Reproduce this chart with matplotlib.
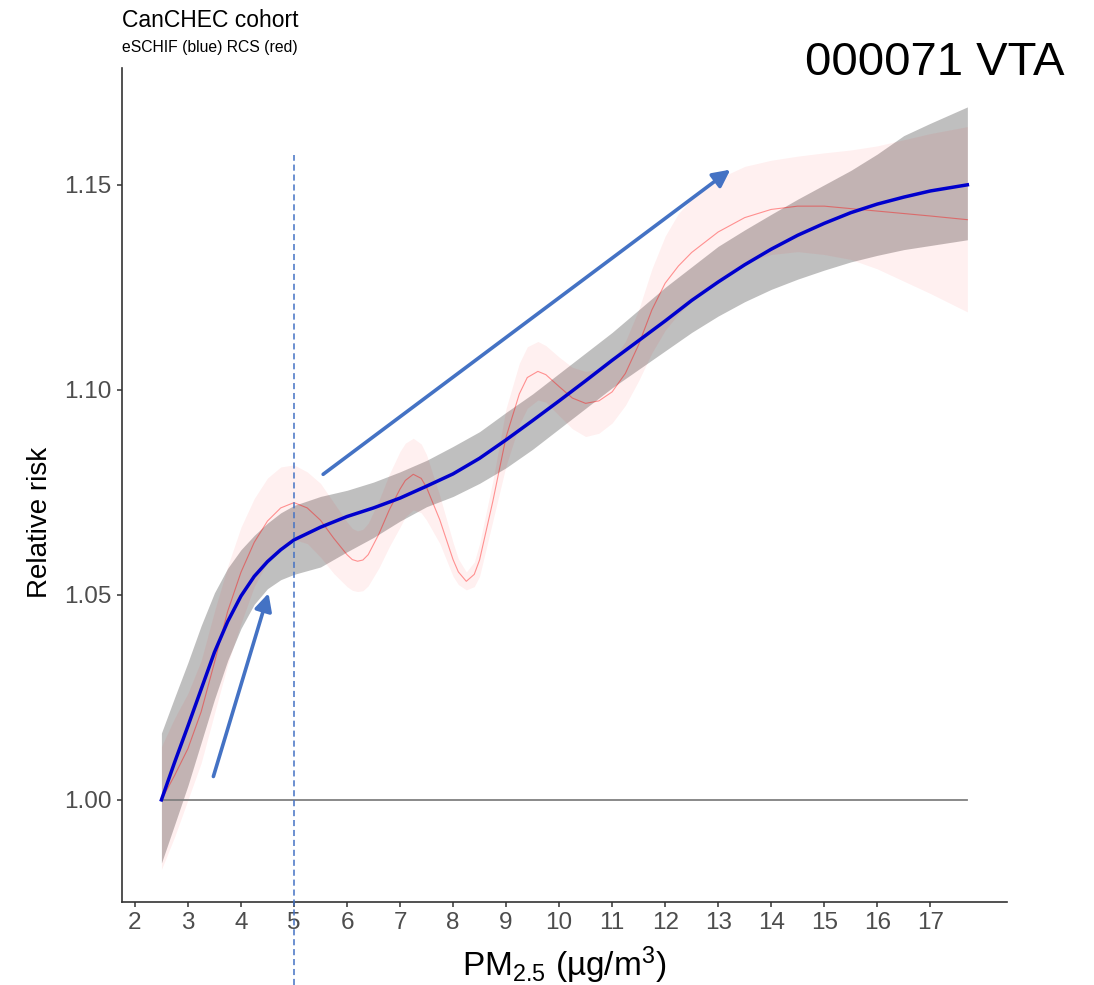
import matplotlib
matplotlib.use("Agg")
import matplotlib.pyplot as plt

plt.rcParams['font.family'] = ['Liberation Sans', 'DejaVu Sans']
plt.rcParams['mathtext.fontset'] = 'custom'
plt.rcParams['mathtext.rm'] = 'Liberation Sans'
plt.rcParams['mathtext.default'] = 'regular'

# eSCHIF curve (blue) with its band
pm = [2.5, 2.75, 3.0, 3.25, 3.5, 3.75, 4.0, 4.25, 4.5, 4.75, 5.0, 5.5, 6.0, 6.5,
      7.0, 7.5, 8.0, 8.5, 9.0, 9.5, 10.0, 10.5, 11.0, 11.5, 12.0, 12.5, 13.0,
      13.5, 14.0, 14.5, 15.0, 15.5, 16.0, 16.5, 17.0, 17.7]
eschif = [1.000, 1.0092, 1.0180, 1.0270, 1.0360, 1.0435, 1.0497, 1.0545, 1.0581,
          1.0610, 1.0634, 1.0665, 1.0691, 1.0712, 1.0736, 1.0765, 1.0795, 1.0833,
          1.0878, 1.0925, 1.0973, 1.1022, 1.1072, 1.1120, 1.1168, 1.1218, 1.1263,
          1.1305, 1.1343, 1.1377, 1.1406, 1.1432, 1.1453, 1.1470, 1.1485, 1.1500]
eschif_hi = [1.0163, 1.0250, 1.0335, 1.0425, 1.0505, 1.0565, 1.0610, 1.0645, 1.0675,
             1.0700, 1.0718, 1.0740, 1.0755, 1.0775, 1.0800, 1.0828, 1.0862, 1.0898,
             1.0945, 1.0990, 1.1040, 1.1090, 1.1140, 1.1195, 1.1250, 1.1300, 1.1350,
             1.1390, 1.1428, 1.1465, 1.1500, 1.1535, 1.1575, 1.1620, 1.1650, 1.1690]
eschif_lo = [0.9846, 0.9940, 1.0035, 1.0140, 1.0245, 1.0340, 1.0418, 1.0477, 1.0515,
             1.0537, 1.0550, 1.0568, 1.0605, 1.0640, 1.0680, 1.0715, 1.0740, 1.0772,
             1.0810, 1.0855, 1.0905, 1.0955, 1.1005, 1.1050, 1.1095, 1.1140, 1.1180,
             1.1215, 1.1245, 1.1270, 1.1292, 1.1312, 1.1328, 1.1342, 1.1352, 1.1366]

# RCS curve (red) with its band
pm_rcs = [2.5, 2.75, 3.0, 3.25, 3.5, 3.75, 4.0, 4.25, 4.5, 4.75,
          5.0, 5.25, 5.5, 5.75, 6.0, 6.1, 6.2, 6.3, 6.4, 6.6,
          6.8, 7.0, 7.1, 7.25, 7.4, 7.5, 7.75, 8.0, 8.1, 8.25,
          8.4, 8.5, 8.75, 9.0, 9.25, 9.4, 9.6, 9.75, 10.0, 10.25,
          10.5, 10.75, 11.0, 11.25, 11.5, 11.75, 12.0, 12.25, 12.5, 13.0,
          13.5, 14.0, 14.5, 15.0, 15.5, 16.0, 16.5, 17.0, 17.7]
rcs = [1.000, 1.0060, 1.0125, 1.0215, 1.0335, 1.0460, 1.0555, 1.0628, 1.0680, 1.0712,
       1.0725, 1.0712, 1.0682, 1.0638, 1.0598, 1.0586, 1.0582, 1.0585, 1.0598, 1.0648,
       1.0708, 1.0758, 1.0779, 1.0794, 1.0784, 1.0762, 1.0683, 1.0586, 1.0556, 1.0533,
       1.0550, 1.0585, 1.0728, 1.0885, 1.0990, 1.1030, 1.1045, 1.1037, 1.1008, 1.0980,
       1.0967, 1.0973, 1.0995, 1.1040, 1.1110, 1.1195, 1.1260, 1.1302, 1.1335, 1.1385,
       1.1420, 1.1440, 1.1448, 1.1448, 1.1442, 1.1436, 1.1430, 1.1424, 1.1415]
rcs_lo = [0.983, 0.991, 1.000, 1.009, 1.021, 1.033, 1.043, 1.052, 1.058, 1.062,
          1.0635, 1.0625, 1.0592, 1.0552, 1.0520, 1.0511, 1.0508, 1.0510, 1.0522, 1.0565,
          1.0618, 1.0665, 1.0690, 1.0707, 1.0700, 1.0682, 1.0625, 1.0545, 1.0525, 1.0512,
          1.0520, 1.0545, 1.0680, 1.0815, 1.0915, 1.0955, 1.0975, 1.0970, 1.0937, 1.0905,
          1.0886, 1.0894, 1.0919, 1.0962, 1.1022, 1.1090, 1.1145, 1.1185, 1.1215, 1.1270,
          1.1310, 1.1330, 1.1337, 1.1330, 1.1318, 1.1295, 1.1265, 1.1235, 1.1190]
rcs_hi = [1.013, 1.020, 1.026, 1.034, 1.046, 1.057, 1.0665, 1.0735, 1.0785, 1.0812,
          1.0817, 1.0800, 1.0772, 1.0725, 1.0678, 1.0662, 1.0656, 1.0660, 1.0675, 1.0730,
          1.0795, 1.0850, 1.0870, 1.0882, 1.0868, 1.0842, 1.0742, 1.0628, 1.0588, 1.0556,
          1.0580, 1.0625, 1.0778, 1.0955, 1.1065, 1.1105, 1.1118, 1.1108, 1.1080, 1.1055,
          1.1045, 1.1050, 1.1072, 1.1118, 1.1195, 1.1295, 1.1375, 1.1430, 1.1465, 1.1515,
          1.1545, 1.1560, 1.1570, 1.1578, 1.1585, 1.1595, 1.1610, 1.1625, 1.1642]

x_ticks = list(range(2, 18))
y_ticks = [1.00, 1.05, 1.10, 1.15]
who_guideline = 5.0

# annotation arrows added on top of the chart (tail, head)
arrow_low = [(3.48, 1.0057), (4.52, 1.0504)]
arrow_high = [(5.55, 1.0794), (13.23, 1.1537)]

fig = plt.figure(figsize=(10.94, 9.85), dpi=100)
ax = fig.add_axes([0.1112, 0.0843, 0.8094, 0.8467])

ax.fill_between(pm, eschif_lo, eschif_hi, color='#bfbfbf', lw=0, zorder=1)
ax.fill_between(pm_rcs, rcs_lo, rcs_hi, color='red', alpha=0.06, lw=0, zorder=2)
ax.plot([pm[0], pm[-1]], [1, 1], color='#808080', lw=1.3, zorder=2)
ax.plot(pm_rcs, rcs, color='red', alpha=0.4, lw=0.8, zorder=3)
ax.plot(pm, eschif, color='#0000cd', lw=2.5, zorder=4)

# dashed guideline runs past the axes down to the figure edge
ax.plot([who_guideline, who_guideline], [0.9549, 1.1573], color='#4472c4',
        lw=1.1, dashes=(4, 2.5), clip_on=False, zorder=5)

for tail, head in [arrow_low, arrow_high]:
    ax.annotate('', xy=head, xytext=tail,
                arrowprops=dict(arrowstyle='-|>', color='#4472c4', lw=2.6,
                                mutation_scale=26, shrinkA=0, shrinkB=0),
                zorder=6)

ax.set_xlim(1.75, 18.45)
ax.set_ylim(0.9751, 1.1785)
ax.set_xticks(x_ticks)
ax.set_yticks(y_ticks)
ax.set_yticklabels([f'{v:.2f}' for v in y_ticks])
ax.tick_params(labelsize=17.5, labelcolor='#4d4d4d', color='#333333',
               length=3.6, width=1.1, pad=3.5)
for side in ['top', 'right']:
    ax.spines[side].set_visible(False)
for side in ['left', 'bottom']:
    ax.spines[side].set_color('#333333')
    ax.spines[side].set_linewidth(1.2)

ax.set_xlabel('PM$_{2.5}$ (µg/m$^{3}$)', fontsize=24, labelpad=8)
ax.set_ylabel('Relative risk', fontsize=20)
ax.yaxis.set_label_coords(-0.078, 0.455)

fig.text(0.1115, 0.9726, 'CanCHEC cohort', fontsize=16.5, va='baseline')
fig.text(0.1115, 0.9472, 'eSCHIF (blue) RCS (red)', fontsize=11.3, va='baseline')
fig.text(0.7358, 0.9239, '000071 VTA', fontsize=34, va='baseline')

fig.savefig('out.png', dpi=100)
